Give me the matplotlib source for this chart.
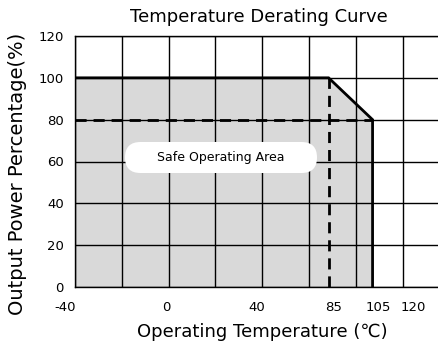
import numpy as np
import matplotlib
matplotlib.use("Agg")
import matplotlib.pyplot as plt
from matplotlib.scale import FuncScale
from matplotlib.ticker import FixedLocator
from matplotlib.patches import FancyBboxPatch
import matplotlib.transforms as mtransforms

# ---- data ----
curve_temp = [-40, 85, 105, 105]
curve_power = [100, 100, 80, 0]
x_tick_values = [-40, 0, 40, 85, 105, 120]
x_tick_labels = ["-40", "0", "40", "85", "105", "120"]
y_tick_values = [0, 20, 40, 60, 80, 100, 120]
derate_start_temp = 85
derate_end_temp = 105
derate_end_power = 80
title = "Temperature Derating Curve"
xlabel = "Operating Temperature (\u2103)"
ylabel = "Output Power Percentage(%)"
area_label = "Safe Operating Area"

# piecewise (non-uniform) temperature scale, as drawn in the reference
knot_temp = np.array([-40.0, 0.0, 40.0, 85.0, 105.0, 120.0, 160.0])
knot_pos = np.array([0.0, 2.0, 4.0, 5.42, 6.36, 7.0, 8.71])

def fwd(t):
    return np.interp(t, knot_temp, knot_pos)

def inv(p):
    return np.interp(p, knot_pos, knot_temp)

plt.rcParams['font.family'] = ['DejaVu Sans']

fig = plt.figure(figsize=(4.39, 3.47), dpi=100)
ax = fig.add_axes([75/439, (347-287)/347, 1 - 75/439, (287-36)/347])
ax.set_xscale(FuncScale(ax, (fwd, inv)))
ax.set_xlim(-40, inv(7.78))
ax.set_ylim(0, 120)

# grid (evenly spaced in drawing position)
ax.xaxis.remove_overlapping_locs = False
ax.xaxis.set_minor_locator(FixedLocator(inv(np.arange(0, 8))))
ax.yaxis.set_major_locator(FixedLocator(y_tick_values))
ax.grid(True, which='minor', axis='x', color='black', lw=1.0)
ax.grid(True, which='major', axis='y', color='black', lw=1.0)
ax.set_axisbelow(False)

# fill + curve
ax.fill_between(curve_temp, curve_power, 0, color='#d9d9d9', zorder=1)
ax.plot(curve_temp, curve_power, color='black', lw=2.0, zorder=4,
        solid_joinstyle='miter')
ax.plot([-40, derate_end_temp], [derate_end_power, derate_end_power],
        color='black', lw=2.0, ls=(0, (4, 2.5)), zorder=4)
ax.plot([derate_start_temp, derate_start_temp], [0, 100],
        color='black', lw=2.0, ls=(0, (4, 2.5)), zorder=4)

# ticks
ax.set_xticks(x_tick_values)
ax.set_xticklabels(x_tick_labels)
ax.tick_params(axis='both', which='both', length=0, labelsize=9.5)
ax.tick_params(axis='x', pad=10)
ax.tick_params(axis='y', pad=8)
x_shift_px = [-10, -2, -5, 5, 6, 11]
for lab, s in zip(ax.get_xticklabels(), x_shift_px):
    lab.set_transform(lab.get_transform() +
                      mtransforms.ScaledTranslation(s/100, 0, fig.dpi_scale_trans))

for sp in ['left', 'bottom', 'top']:
    ax.spines[sp].set_color('black')
    ax.spines[sp].set_linewidth(1.0)
ax.spines['right'].set_visible(False)

# safe operating area pill (pixel coordinates)
pill = FancyBboxPatch((125, 347-173), 192, 31,
                      boxstyle="round,pad=0,rounding_size=15.5",
                      transform=mtransforms.IdentityTransform(),
                      facecolor='white', edgecolor='none', zorder=5)
fig.add_artist(pill)
fig.text(221/439, (347-157)/347, area_label, ha='center', va='center',
         fontsize=9, zorder=6)

fig.text(259/439, (347-17)/347, title, ha='center', va='center', fontsize=13)
fig.text(262/439, (347-332)/347, xlabel, ha='center', va='center', fontsize=13)
fig.text(18/439, (347-174)/347, ylabel, ha='center', va='center',
         rotation=90, fontsize=14)

fig.savefig("out.png", dpi=100)
